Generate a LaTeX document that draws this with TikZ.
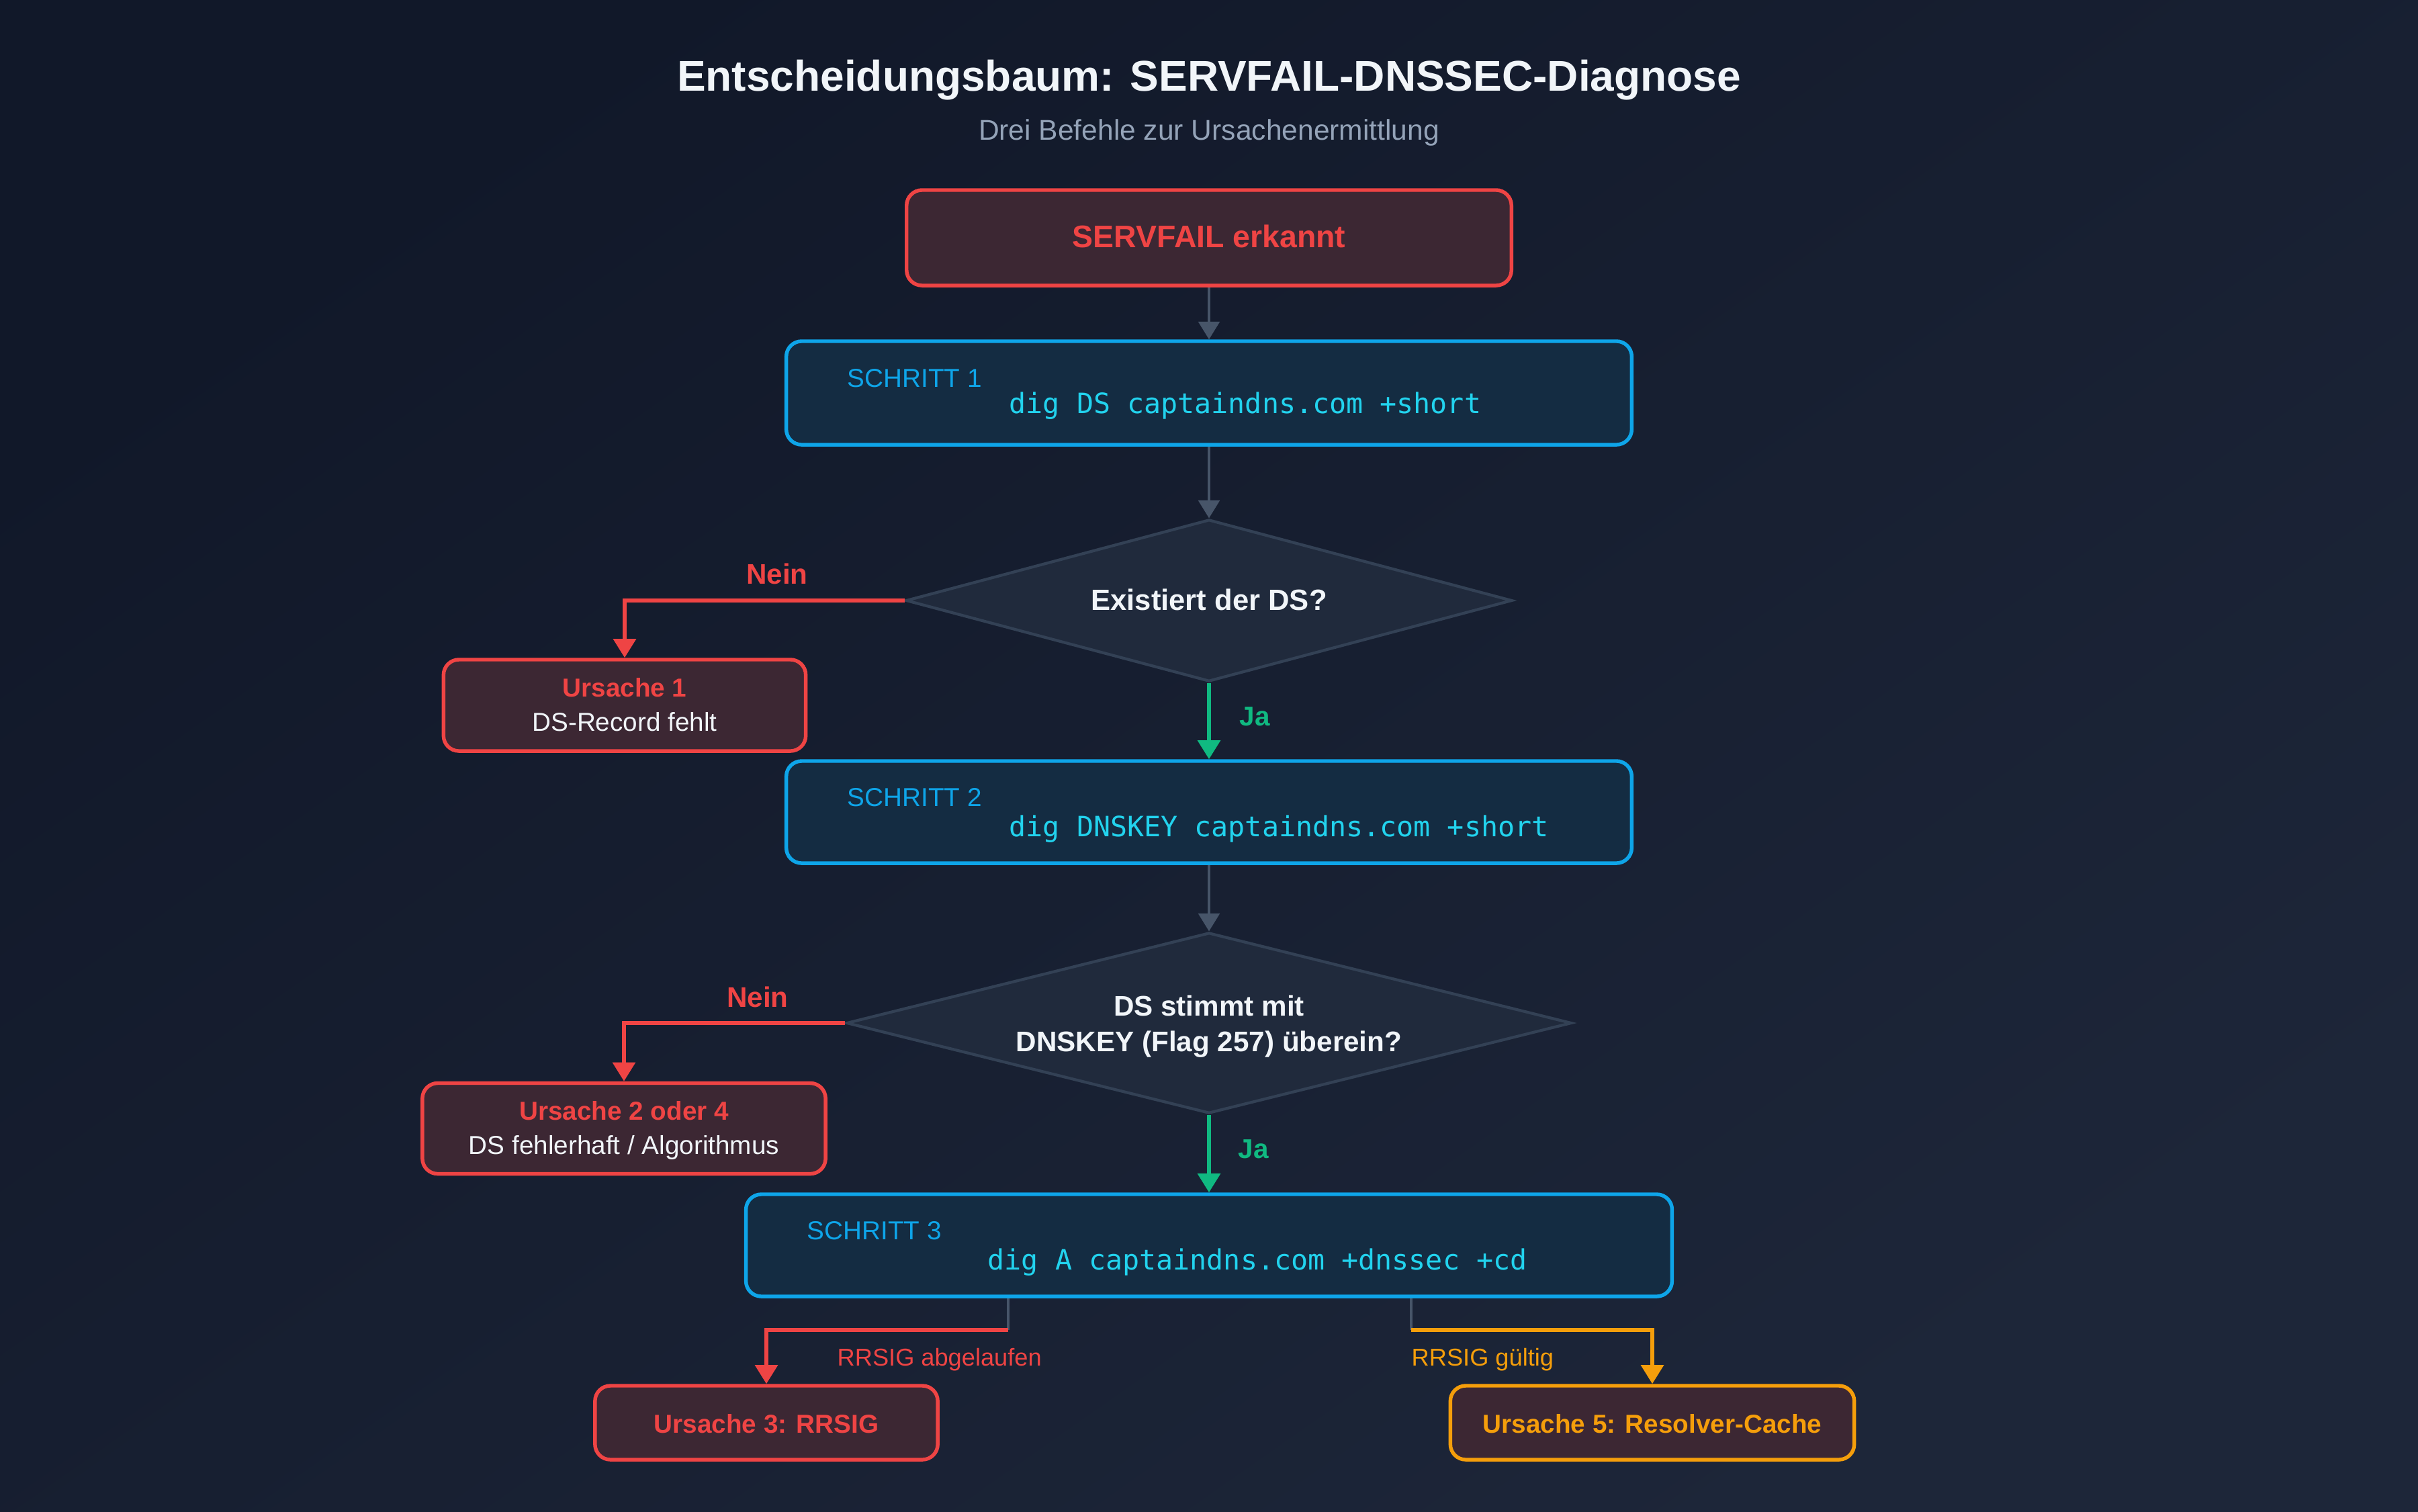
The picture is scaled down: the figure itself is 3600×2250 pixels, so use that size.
\documentclass[tikz,border=0pt]{standalone}
\usepackage{fontspec}
\setmainfont{Liberation Sans}
\setmonofont{DejaVu Sans Mono}
\usetikzlibrary{arrows.meta,shapes.geometric}
\definecolor{bgA}{HTML}{111829}
\definecolor{bgB}{HTML}{1D2639}
\definecolor{cRed}{HTML}{EF4444}
\definecolor{fRed}{HTML}{3C2733}
\definecolor{cBlue}{HTML}{0EA5E9}
\definecolor{fBlue}{HTML}{142C42}
\definecolor{cCyan}{HTML}{22D3EE}
\definecolor{cGreen}{HTML}{10B981}
\definecolor{cOrange}{HTML}{F59E0B}
\definecolor{cGray}{HTML}{475569}
\definecolor{cDia}{HTML}{334155}
\definecolor{fDia}{HTML}{202A3C}
\definecolor{cWhite}{HTML}{F1F5F9}
\definecolor{cSub}{HTML}{94A3B8}
\tikzset{
  redbox/.style={draw=cRed, fill=fRed, line width=1.55pt, rounded corners=6.5pt, inner sep=0pt},
  orangebox/.style={draw=cOrange, fill=fRed, line width=1.55pt, rounded corners=6.5pt, inner sep=0pt},
  bluebox/.style={draw=cBlue, fill=fBlue, line width=1.55pt, rounded corners=6.5pt, inner sep=0pt},
  diabox/.style={diamond, draw=cDia, fill=fDia, line width=1.2pt, inner sep=0pt, aspect=3.7},
  txt/.style={inner sep=0pt, anchor=base},
  txtw/.style={inner sep=0pt, anchor=base west},
  grayarrow/.style={draw=cGray, line width=0.9pt, -{Triangle[length=7.5pt,width=9pt]}},
  grayline/.style={draw=cGray, line width=0.9pt},
  redarrow/.style={draw=cRed, line width=1.7pt, -{Triangle[length=8pt,width=9.4pt]}},
  greenarrow/.style={draw=cGreen, line width=1.7pt, -{Triangle[length=8pt,width=9.4pt]}},
  orangearrow/.style={draw=cOrange, line width=1.7pt, -{Triangle[length=8pt,width=9.4pt]}},
  steplabel/.style={txtw, text=cBlue, font=\fontsize{11}{13}\selectfont},
  cmdlabel/.style={txtw, text=cCyan, font=\ttfamily\fontsize{11.85}{14}\selectfont},
}
\begin{document}
\begin{tikzpicture}[x=0.01cm, y=-0.01cm]
\useasboundingbox (0,0) rectangle (3600,2250);
\shade[top color=bgA, bottom color=bgB, shading angle=35] (0,0) rectangle (3600,2250);

% title
\node[txt, text=cWhite, font=\bfseries\fontsize{18.2}{22}\selectfont] (title) at (1800,135) {Entscheidungsbaum: SERVFAIL-DNSSEC-Diagnose};
\node[txt, text=cSub, font=\fontsize{12.1}{14}\selectfont] (subtitle) at (1800,208) {Drei Befehle zur Ursachenermittlung};

% start
\node[redbox, minimum width=9cm, minimum height=1.42cm] (s0) at (1800,354) {};
\node[txt, text=cRed, font=\bfseries\fontsize{13.2}{16}\selectfont] (s0t) at (1800,368) {SERVFAIL erkannt};

% step 1
\node[bluebox, minimum width=12.58cm, minimum height=1.54cm] (s1) at (1800,585) {};
\node[steplabel] (s1a) at (1261,576) {SCHRITT 1};
\node[cmdlabel] (s1b) at (1502,615) {dig DS captaindns.com +short};

% diamond 1
\node[diabox, minimum width=9.02cm, minimum height=2.41cm] (d1) at (1800,894) {};
\node[txt, text=cWhite, font=\bfseries\fontsize{12.4}{15}\selectfont] (d1t) at (1800,908) {Existiert der DS?};

% cause 1
\node[redbox, minimum width=5.39cm, minimum height=1.36cm] (u1) at (930,1050) {};
\node[txt, text=cRed, font=\bfseries\fontsize{11}{13}\selectfont] (u1a) at (930,1037) {Ursache 1};
\node[txt, text=cWhite, font=\fontsize{11}{13}\selectfont] (u1b) at (930,1088) {DS-Record fehlt};

% step 2
\node[bluebox, minimum width=12.58cm, minimum height=1.52cm] (s2) at (1800,1209) {};
\node[steplabel] (s2a) at (1261,1200) {SCHRITT 2};
\node[cmdlabel] (s2b) at (1502,1245) {dig DNSKEY captaindns.com +short};

% diamond 2
\node[diabox, minimum width=10.79cm, minimum height=2.69cm] (d2) at (1800,1523) {};
\node[txt, text=cWhite, font=\bfseries\fontsize{12}{15}\selectfont] (d2a) at (1800,1512) {DS stimmt mit};
\node[txt, text=cWhite, font=\bfseries\fontsize{12}{15}\selectfont] (d2b) at (1800,1565) {DNSKEY (Flag 257) überein?};

% cause 2/4
\node[redbox, minimum width=6.0cm, minimum height=1.35cm] (u2) at (929,1680) {};
\node[txt, text=cRed, font=\bfseries\fontsize{11}{13}\selectfont] (u2a) at (929,1667) {Ursache 2 oder 4};
\node[txt, text=cWhite, font=\fontsize{11}{13}\selectfont] (u2b) at (929,1718) {DS fehlerhaft / Algorithmus};

% step 3
\node[bluebox, minimum width=13.78cm, minimum height=1.52cm] (s3) at (1800,1854) {};
\node[steplabel] (s3a) at (1201,1845) {SCHRITT 3};
\node[cmdlabel] (s3b) at (1470,1890) {dig A captaindns.com +dnssec +cd};

% causes 3 and 5
\node[redbox, minimum width=5.1cm, minimum height=1.1cm] (u3) at (1141,2118) {};
\node[txt, text=cRed, font=\bfseries\fontsize{11}{13}\selectfont] (u3t) at (1141,2133) {Ursache 3: RRSIG};
\node[orangebox, minimum width=6.01cm, minimum height=1.1cm] (u5) at (2460,2118) {};
\node[txt, text=cOrange, font=\bfseries\fontsize{11}{13}\selectfont] (u5t) at (2460,2133) {Ursache 5: Resolver-Cache};

% connectors
\draw[grayarrow] (s0.south) -- (s1.north);
\draw[grayarrow] (s1.south) -- (d1.north);
\draw[redarrow] (d1.west) -| (u1.north);
\node[txt, text=cRed, font=\bfseries\fontsize{12}{14}\selectfont] (n1) at (1157,869) {Nein};
\draw[greenarrow] (d1.south) -- (s2.north);
\node[txtw, text=cGreen, font=\bfseries\fontsize{11.5}{14}\selectfont] (j1) at (1845,1080) {Ja};
\draw[grayarrow] (s2.south) -- (d2.north);
\draw[redarrow] (d2.west) -| (u2.north);
\node[txt, text=cRed, font=\bfseries\fontsize{12}{14}\selectfont] (n2) at (1128,1499) {Nein};
\draw[greenarrow] (d2.south) -- (s3.north);
\node[txtw, text=cGreen, font=\bfseries\fontsize{11.5}{14}\selectfont] (j2) at (1843,1724) {Ja};

\coordinate (b1) at (1501,1980);
\coordinate (b2) at (2101,1980);
\draw[grayline] (s3.south -| b1) -- (b1);
\draw[redarrow] (b1) -| (u3.north);
\draw[grayline] (s3.south -| b2) -- (b2);
\draw[orangearrow] (b2) -| (u5.north);
\node[txtw, text=cRed, font=\fontsize{10.3}{12}\selectfont] (l1) at (1246,2033) {RRSIG abgelaufen};
\node[txtw, text=cOrange, font=\fontsize{10.3}{12}\selectfont] (l2) at (2101,2033) {RRSIG gültig};
\end{tikzpicture}
\end{document}
